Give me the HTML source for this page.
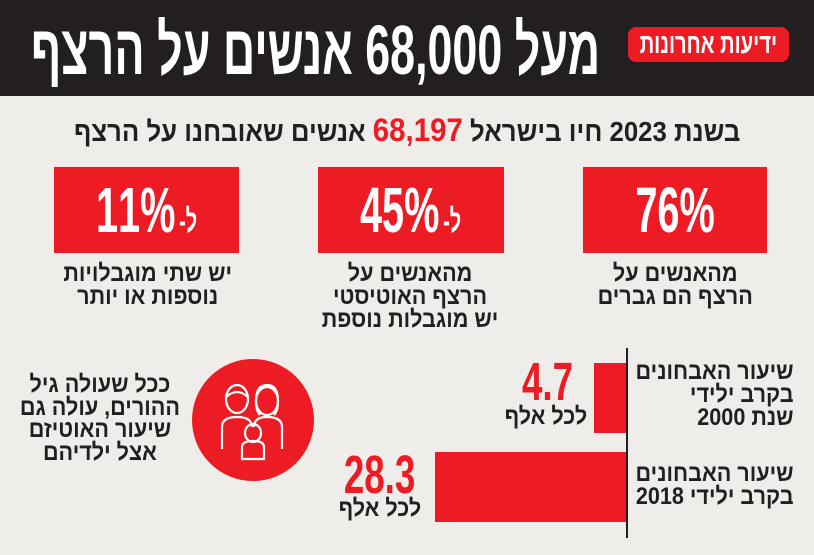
<!DOCTYPE html>
<html><head><meta charset="utf-8"><style>
*{margin:0;padding:0;box-sizing:border-box}
body{width:814px;height:555px;overflow:hidden;background:#efedea;font-family:"Liberation Sans","DejaVu Sans",sans-serif;position:relative;color:#231f20}
.a{position:absolute;display:flex;justify-content:center;white-space:nowrap}
.a>span{display:block;direction:rtl;text-align:center;flex:none}
.hdr{position:absolute;left:0;top:0;width:814px;height:96px;background:#231f20}
.red{background:#ed1c24;position:absolute}
.big{font-size:64px;font-weight:bold;color:#fff;line-height:64px;transform:scaleX(0.62)}
.cap{font-size:24px;font-weight:bold;line-height:23px;transform:scaleX(0.9)}
.l{font-size:32px;unicode-bidi:bidi-override;direction:ltr;margin-left:6px}
</style></head><body>
<div class="hdr"></div>
<div class="red" style="left:628px;top:27px;width:161px;height:35px;border-radius:8px"></div>
<div class="a" style="left:628px;top:29px;width:161px"><span style="font-size:28px;font-weight:bold;color:#fff;transform:scaleX(0.72);line-height:30px">ידיעות אחרונות</span></div>
<div class="a" style="left:32px;top:12px;width:568px"><span style="font-size:70px;font-weight:bold;color:#fff;line-height:76px;transform:scaleX(0.64)">מעל 68,000 אנשים על הרצף</span></div>

<div class="a" style="left:73px;top:114px;width:669px"><span style="font-size:28px;font-weight:bold;line-height:32px;transform:scaleX(0.92)">בשנת 2023 חיו בישראל <b style="color:#ed1c24;font-size:32px">68,197</b> אנשים שאובחנו על הרצף</span></div>

<div class="red" style="left:54px;top:167px;width:185px;height:86px"></div>
<div class="red" style="left:318px;top:167px;width:186px;height:86px"></div>
<div class="red" style="left:583px;top:167px;width:184px;height:86px"></div>
<div class="a" style="left:54px;top:178px;width:185px"><span class="big" style="direction:ltr">11%<span class="l">-ל</span></span></div>
<div class="a" style="left:318px;top:178px;width:186px"><span class="big" style="direction:ltr">45%<span class="l">-ל</span></span></div>
<div class="a" style="left:583px;top:178px;width:184px"><span class="big">76%</span></div>

<div class="a" style="left:40px;top:262px;width:215px"><span class="cap">יש שתי מוגבלויות<br>נוספות או יותר</span></div>
<div class="a" style="left:300px;top:262px;width:220px"><span class="cap">מהאנשים על<br>הרצף האוטיסטי<br>יש מוגבלות נוספת</span></div>
<div class="a" style="left:570px;top:262px;width:210px"><span class="cap">מהאנשים על<br>הרצף הם גברים</span></div>

<div style="position:absolute;left:626px;top:348px;width:2px;height:190px;background:#231f20"></div>
<div class="red" style="left:594px;top:363px;width:32px;height:70px"></div>
<div class="red" style="left:435px;top:452px;width:191px;height:70px"></div>
<div class="a" style="left:505px;top:356px;width:85px"><span style="font-size:54px;font-weight:bold;color:#ed1c24;line-height:52px;transform:scaleX(0.68)">4.7</span></div>
<div class="a" style="left:500px;top:405px;width:92px"><span class="cap" style="line-height:24px">לכל אלף</span></div>
<div class="a" style="left:325px;top:449px;width:110px"><span style="font-size:54px;font-weight:bold;color:#ed1c24;line-height:52px;transform:scaleX(0.68)">28.3</span></div>
<div class="a" style="left:330px;top:497px;width:100px"><span class="cap" style="line-height:24px">לכל אלף</span></div>
<div class="a" style="left:620px;top:360px;width:194px;justify-content:flex-end;padding-right:20px"><span class="cap" style="text-align:right;transform-origin:right top">שיעור האבחונים<br>בקרב ילידי<br>שנת 2000</span></div>
<div class="a" style="left:620px;top:462px;width:194px;justify-content:flex-end;padding-right:20px"><span class="cap" style="text-align:right;transform-origin:right top">שיעור האבחונים<br>בקרב ילידי 2018</span></div>

<svg style="position:absolute;left:192px;top:359px" width="122" height="122" viewBox="0 0 122 122">
<circle cx="61" cy="61" r="61" fill="#ed1c24"/>
<g fill="none" stroke="#fff" stroke-width="2.2">
<ellipse cx="45" cy="40" rx="11" ry="14"/>
<path d="M34 38 q11 -10 22 0"/>
<ellipse cx="75" cy="42" rx="11" ry="14"/>
<path d="M64 42 q0 -16 11 -16 q11 0 11 16 q0 10 -4 14 M68 56 q-4 -4 -4 -14"/>
<path d="M30 90 v-22 q0 -10 15 -10 q15 0 15 10"/>
<path d="M62 68 q0 -10 13 -10 q15 0 15 10 v22"/>
<ellipse cx="61" cy="74" rx="8" ry="9"/>
<path d="M50 100 v-12 q0 -6 11 -6 q11 0 11 6 v12 z"/>
</g></svg>
<div class="a" style="left:12px;top:374px;width:175px"><span class="cap" style="line-height:22.5px">ככל שעולה גיל<br>ההורים, עולה גם<br>שיעור האוטיזם<br>אצל ילדיהם</span></div>
</body></html>
